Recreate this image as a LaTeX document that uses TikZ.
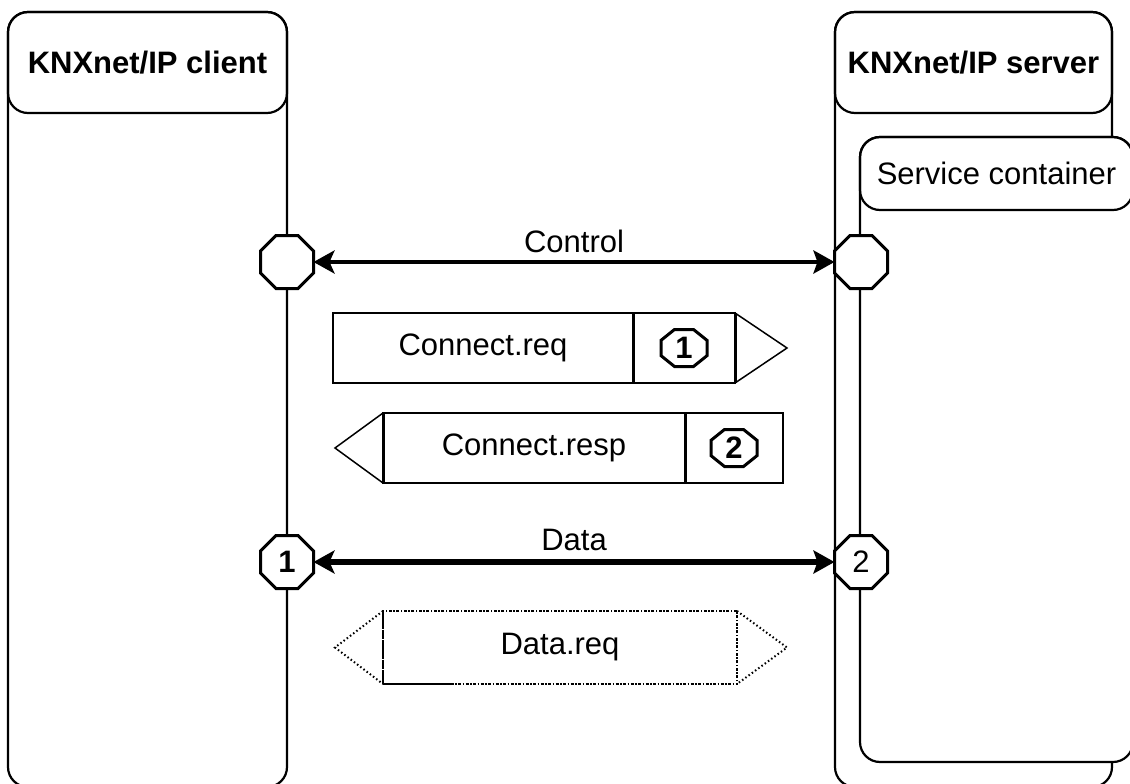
\documentclass[tikz,border=0pt]{standalone}
\usepackage{fontspec}
\setmainfont{Liberation Sans}
\usetikzlibrary{arrows.meta}

% octagon centred on a coordinate: [options]{centre}{half width}{half height}
\newcommand\octagonat[4][]{%
  \draw[octo,#1] (#2) ++(#3,{0.414*#4}) -- ++(0,{-0.828*#4})
    -- ++({-0.586*#3},{-0.586*#4}) -- ++({-0.828*#3},0)
    -- ++({-0.586*#3},{0.586*#4}) -- ++(0,{0.828*#4})
    -- ++({0.586*#3},{0.586*#4}) -- ++({0.828*#3},0) -- cycle;}

\begin{document}
\begin{tikzpicture}[x=1pt,y=-1pt,
  lane/.style={draw=black, line width=2.2pt, rounded corners=20pt},
  head/.style={draw=black, line width=2.2pt, rounded corners=20pt, inner sep=0pt,
    font=\bfseries\fontsize{31}{37}\selectfont},
  subhead/.style={draw=black, line width=2.2pt, rounded corners=20pt, inner sep=0pt,
    font=\fontsize{31}{37}\selectfont},
  lbl/.style={inner sep=0pt, font=\fontsize{31}{37}\selectfont},
  octo/.style={draw=black, line width=3pt, line join=miter, fill=white},
  port/.style={circle, minimum size=53pt, inner sep=0pt, outer sep=0pt,
    font=\fontsize{31}{37}\selectfont},
  num/.style={inner sep=0pt, font=\bfseries\fontsize{31}{37}\selectfont},
  cell/.style={draw=black, line width=2.2pt, inner sep=0pt, outer sep=0pt,
    font=\fontsize{31}{37}\selectfont},
  dotcell/.style={draw=black, line width=2pt, inner sep=0pt, outer sep=0pt,
    dash pattern=on 3pt off 1.5pt on 1.5pt off 1.5pt,
    font=\fontsize{31}{37}\selectfont},
  divider/.style={draw=black, line width=3pt},
  tipline/.style={draw=black, line width=1.5pt, line join=miter},
  dottip/.style={draw=black, line width=2pt, dash pattern=on 1.5pt off 2.5pt},
  link/.style={draw=black,
    {Stealth[length=21pt,width=23pt,inset=5pt]}-{Stealth[length=21pt,width=23pt,inset=4pt]}},
]
\useasboundingbox (0,0) rectangle (1130,784);
\clip (0,0) rectangle (1130,784);
\fill[white] (0,0) rectangle (1130,784);

% client lifeline
\draw[lane] (8,12) rectangle (287,787);
\node[head, minimum width=279pt, minimum height=101pt] (client) at (147.5,62.5) {KNXnet/IP client};

% server lifeline with its service container
\draw[lane] (835,12) rectangle (1112,787);
\node[head, minimum width=277pt, minimum height=101pt] (server) at (973.5,62.5) {KNXnet/IP server};
\draw[lane, fill=white] (860,137) rectangle (1133,762);
\node[subhead, minimum width=273pt, minimum height=73pt] (svc) at (996.5,173.5) {Service container};

% endpoints
\coordinate (pc1) at (287,262);
\coordinate (ps1) at (861,262);
\coordinate (pc2) at (287,562);
\coordinate (ps2) at (861,562);
\octagonat{pc1}{26.5}{26.5}
\octagonat{ps1}{26.5}{26.5}
\octagonat{pc2}{26.5}{26.5}
\octagonat{ps2}{26.5}{26.5}
\node[port] (cctl) at (pc1) {};
\node[port] (sctl) at (ps1) {};
\node[port, font=\bfseries\fontsize{31}{37}\selectfont] (cdat) at (pc2) {1};
\node[port] (sdat) at (ps2) {2};

% channels
\draw[link, line width=4.5pt] (cctl.east) -- node[lbl, above=7pt] (ctrllbl) {Control} (sctl.west);
\draw[link, line width=6pt] (cdat.east) -- node[lbl, above=8pt] (datalbl) {Data} (sdat.west);

% Connect.req frame
\node[cell, minimum width=300pt, minimum height=70pt] (reqtxt) at (483,348) {Connect.req};
\node[cell, minimum width=102pt, minimum height=70pt] (reqno) at (684,348) {};
\draw[divider] (reqno.north west) -- (reqno.south west);
\draw[divider] (reqno.north east) -- (reqno.south east);
\draw[tipline] (reqno.north east) -- ++(52,35) -- (reqno.south east);
\octagonat[fill=none]{reqno.center}{23}{18.5}
\node[num] (reqid) at (reqno.center) {1};

% Connect.resp frame
\node[cell, minimum width=302pt, minimum height=70pt] (resptxt) at (534,448) {Connect.resp};
\node[cell, minimum width=98pt, minimum height=70pt] (respno) at (734,448) {};
\draw[divider] (resptxt.north west) -- (resptxt.south west);
\draw[divider] (respno.north west) -- (respno.south west);
\draw[tipline] (resptxt.north west) -- ++(-48,35) -- (resptxt.south west);
\octagonat[fill=none]{respno.center}{23}{18.5}
\node[num] (respid) at (respno.center) {2};

% Data.req frame
\node[dotcell, minimum width=354pt, minimum height=73pt] (datareq) at (560,647.5) {Data.req};
\draw[dottip] (datareq.north west) -- ++(-48,36.5) -- (datareq.south west);
\draw[dottip] (datareq.north east) -- ++(50,36.5) -- (datareq.south east);
\draw[line width=2pt, dash pattern=on 8pt off 2pt] (datareq.north west) -- (datareq.south west);
\draw[line width=2.2pt] (datareq.south west) -- ++(70,0);
\end{tikzpicture}
\end{document}
